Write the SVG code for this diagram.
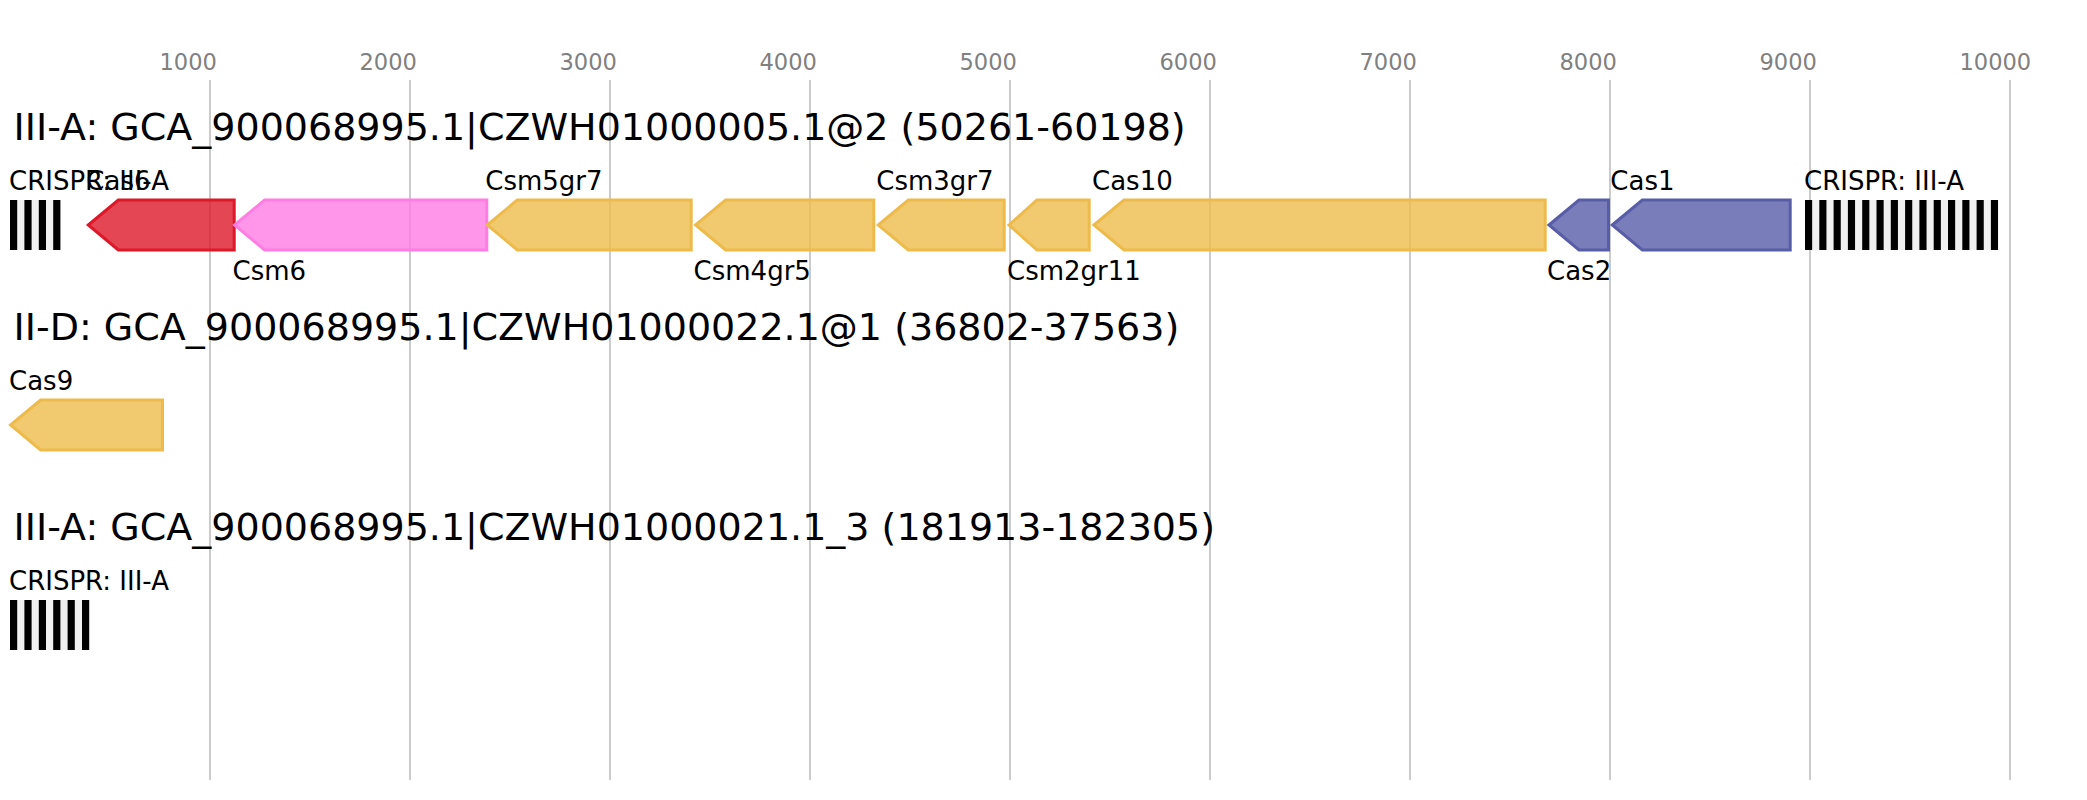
<svg xmlns="http://www.w3.org/2000/svg" width="2087" height="800" viewBox="0 0 2087 800">
<style>
.grid{stroke:#bebebe;stroke-width:1.6}
.tick{font-family:"DejaVu Sans",sans-serif;font-size:22.5px;fill:#808080}
.title{font-family:"DejaVu Sans",sans-serif;font-size:38px;fill:#000}
.lbl{font-family:"DejaVu Sans",sans-serif;font-size:26px;fill:#000}
.gene{stroke-width:3;fill-opacity:0.8}
.red{fill:#dd1829;stroke:#dd1829}
.pink{fill:#ff7ce3;stroke:#ff7ce3}
.yel{fill:#edbb4b;stroke:#edbb4b}
.blue{fill:#585da7;stroke:#585da7}
.rep{fill:#000}
.spc{fill:#f0f0f0}
</style>
<rect width="2087" height="800" fill="#fff"/>
<g id="axis">
<line class="grid" x1="210" y1="80" x2="210" y2="780"/>
<line class="grid" x1="410" y1="80" x2="410" y2="780"/>
<line class="grid" x1="610" y1="80" x2="610" y2="780"/>
<line class="grid" x1="810" y1="80" x2="810" y2="780"/>
<line class="grid" x1="1010" y1="80" x2="1010" y2="780"/>
<line class="grid" x1="1210" y1="80" x2="1210" y2="780"/>
<line class="grid" x1="1410" y1="80" x2="1410" y2="780"/>
<line class="grid" x1="1610" y1="80" x2="1610" y2="780"/>
<line class="grid" x1="1810" y1="80" x2="1810" y2="780"/>
<line class="grid" x1="2010" y1="80" x2="2010" y2="780"/>
<text class="tick" x="159.5" y="70">1000</text>
<text class="tick" x="359.5" y="70">2000</text>
<text class="tick" x="559.5" y="70">3000</text>
<text class="tick" x="759.5" y="70">4000</text>
<text class="tick" x="959.5" y="70">5000</text>
<text class="tick" x="1159.5" y="70">6000</text>
<text class="tick" x="1359.5" y="70">7000</text>
<text class="tick" x="1559.5" y="70">8000</text>
<text class="tick" x="1759.5" y="70">9000</text>
<text class="tick" x="1959.5" y="70">10000</text>
</g>
<g id="titles">
<text class="title" x="13.6" y="140">III-A: GCA_900068995.1|CZWH01000005.1@2 (50261-60198)</text>
<text class="title" x="13.6" y="340">II-D: GCA_900068995.1|CZWH01000022.1@1 (36802-37563)</text>
<text class="title" x="13.6" y="540">III-A: GCA_900068995.1|CZWH01000021.1_3 (181913-182305)</text>
</g>
<g id="crispr1">
<rect class="spc" x="10" y="200" width="50.4" height="50"/>
<rect class="rep" x="10" y="200" width="7.2" height="50"/>
<rect class="rep" x="24.4" y="200" width="7.2" height="50"/>
<rect class="rep" x="38.8" y="200" width="7.2" height="50"/>
<rect class="rep" x="53.2" y="200" width="7.2" height="50"/>
<text class="lbl" x="9" y="190">CRISPR: III-A</text>
</g>
<g id="cas6">
<polygon class="gene red" points="88.3,225 118.3,200 234.2,200 234.2,250 118.3,250"/>
<text class="lbl" x="86.3" y="190">Cas6</text>
</g>
<g id="csm6">
<polygon class="gene pink" points="234.6,225 264.6,200 486.8,200 486.8,250 264.6,250"/>
<text class="lbl" x="232.6" y="280">Csm6</text>
</g>
<g id="csm5gr7">
<polygon class="gene yel" points="487.3,225 517.3,200 691.2,200 691.2,250 517.3,250"/>
<text class="lbl" x="485.3" y="190">Csm5gr7</text>
</g>
<g id="csm4gr5">
<polygon class="gene yel" points="695.6,225 725.6,200 873.8,200 873.8,250 725.6,250"/>
<text class="lbl" x="693.6" y="280">Csm4gr5</text>
</g>
<g id="csm3gr7">
<polygon class="gene yel" points="878.3,225 908.3,200 1004.2,200 1004.2,250 908.3,250"/>
<text class="lbl" x="876.3" y="190">Csm3gr7</text>
</g>
<g id="csm2gr11">
<polygon class="gene yel" points="1009,225 1037,200 1089.2,200 1089.2,250 1037,250"/>
<text class="lbl" x="1007" y="280">Csm2gr11</text>
</g>
<g id="cas10">
<polygon class="gene yel" points="1094,225 1124,200 1545.2,200 1545.2,250 1124,250"/>
<text class="lbl" x="1092" y="190">Cas10</text>
</g>
<g id="cas2">
<polygon class="gene blue" points="1549,225 1579,200 1608.5,200 1608.5,250 1579,250"/>
<text class="lbl" x="1547" y="280">Cas2</text>
</g>
<g id="cas1">
<polygon class="gene blue" points="1612.3,225 1642.3,200 1790.2,200 1790.2,250 1642.3,250"/>
<text class="lbl" x="1610.3" y="190">Cas1</text>
</g>
<g id="crispr2">
<rect class="spc" x="1805" y="200" width="193" height="50"/>
<rect class="rep" x="1805" y="200" width="7.15" height="50"/>
<rect class="rep" x="1819.3" y="200" width="7.15" height="50"/>
<rect class="rep" x="1833.6" y="200" width="7.15" height="50"/>
<rect class="rep" x="1847.9" y="200" width="7.15" height="50"/>
<rect class="rep" x="1862.2" y="200" width="7.15" height="50"/>
<rect class="rep" x="1876.5" y="200" width="7.15" height="50"/>
<rect class="rep" x="1890.8" y="200" width="7.15" height="50"/>
<rect class="rep" x="1905.1" y="200" width="7.15" height="50"/>
<rect class="rep" x="1919.4" y="200" width="7.15" height="50"/>
<rect class="rep" x="1933.7" y="200" width="7.15" height="50"/>
<rect class="rep" x="1948" y="200" width="7.15" height="50"/>
<rect class="rep" x="1962.3" y="200" width="7.15" height="50"/>
<rect class="rep" x="1976.6" y="200" width="7.15" height="50"/>
<rect class="rep" x="1990.9" y="200" width="7.15" height="50"/>
<text class="lbl" x="1804" y="190">CRISPR: III-A</text>
</g>
<g id="cas9">
<polygon class="gene yel" points="10.6,425 40.6,400 162.5,400 162.5,450 40.6,450"/>
<text class="lbl" x="9" y="390">Cas9</text>
</g>
<g id="crispr3">
<rect class="spc" x="10" y="600" width="79.2" height="50"/>
<rect class="rep" x="10" y="600" width="7.2" height="50"/>
<rect class="rep" x="24.4" y="600" width="7.2" height="50"/>
<rect class="rep" x="38.8" y="600" width="7.2" height="50"/>
<rect class="rep" x="53.2" y="600" width="7.2" height="50"/>
<rect class="rep" x="67.6" y="600" width="7.2" height="50"/>
<rect class="rep" x="82" y="600" width="7.2" height="50"/>
<text class="lbl" x="9" y="590">CRISPR: III-A</text>
</g>
<g id="connectors"/>
</svg>
